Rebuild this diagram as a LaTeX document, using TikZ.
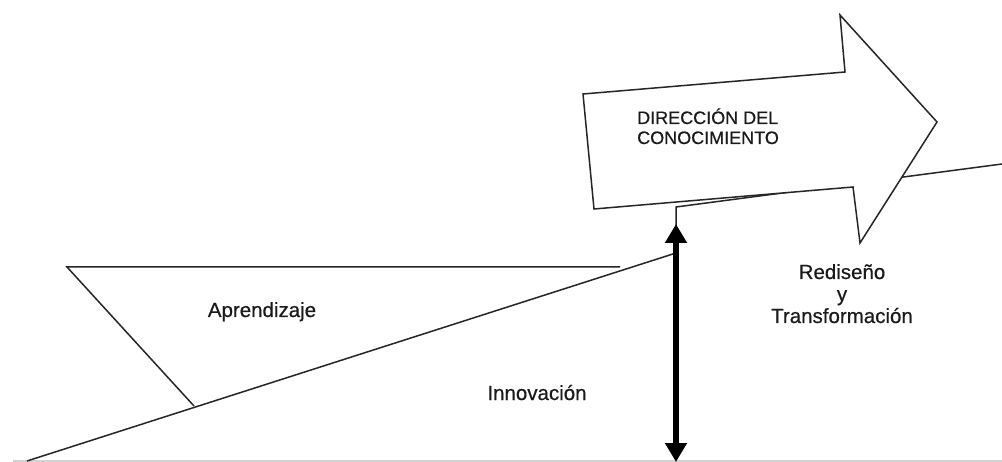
\documentclass[tikz,border=0pt]{standalone}
\usepackage{fontspec}
\setmainfont{Liberation Sans}
\newfontfamily\lblfont{Liberation Sans}[FakeBold=0.5]
\usetikzlibrary{arrows.meta}
\definecolor{ink}{HTML}{262626}
\definecolor{txt}{HTML}{1A1A1A}
\tikzset{
  thinline/.style={draw=ink, line width=1.5pt, line join=miter},
  bigarrow/.style={thinline, fill=white},
  dbl/.style={draw=black, line width=5.5pt,
    {Triangle[width=21pt,length=19pt]}-{Triangle[width=21pt,length=19pt]}},
  lbl/.style={inner sep=0pt, text=txt, font=\lblfont\fontsize{20.5}{22}\selectfont},
  caps/.style={inner sep=0pt, text=txt, font=\lblfont\fontsize{18}{20}\selectfont}
}
\begin{document}
\begin{tikzpicture}[x=1pt,y=-1pt]
\useasboundingbox (0,0) rectangle (1002,462);
% faint bottom border
\draw[gray!35, line width=1.5pt] (13,461) -- (1002,461);
% coordinates
\coordinate (r0) at (27,461);
\coordinate (r1) at (676,253);
\coordinate (r2) at (676,207);
\coordinate (r3) at (1002,164);
\coordinate (t0) at (67,267);
\coordinate (t1) at (620,267);
\coordinate (t2) at (194,406);
\coordinate (a1) at (583,94);
\coordinate (a2) at (845,72);
\coordinate (a3) at (840,15);
\coordinate (a4) at (937,122);
\coordinate (a5) at (860,243);
\coordinate (a6) at (853,187);
\coordinate (a7) at (594,209);
\coordinate (d0) at (676,224);
\coordinate (d1) at (676,462);
% ramp with step
\draw[thinline] (r0) -- (r1) -- (r2) -- (r3);
% learning triangle
\draw[thinline] (t1) -- (t0) -- (t2);
% big arrow
\draw[bigarrow] (a1) -- (a2) -- (a3) -- (a4) -- (a5) -- (a6) -- (a7) -- cycle;
% double arrow
\draw[dbl] (d0) -- (d1);
% texts
\node[caps, anchor=base west] (dir1) at (637,124) {DIRECCIÓN DEL};
\node[caps, anchor=base west] (dir2) at (637,144) {CONOCIMIENTO};
\node[lbl, anchor=base] (apr) at (262,317) {Aprendizaje};
\node[lbl, anchor=base] (inn) at (537,400) {Innovación};
\node[lbl, anchor=base] (red1) at (842,279) {Rediseño};
\node[lbl, anchor=base] (red2) at (842,301) {y};
\node[lbl, anchor=base] (red3) at (842,323) {Transformación};
\end{tikzpicture}
\end{document}
